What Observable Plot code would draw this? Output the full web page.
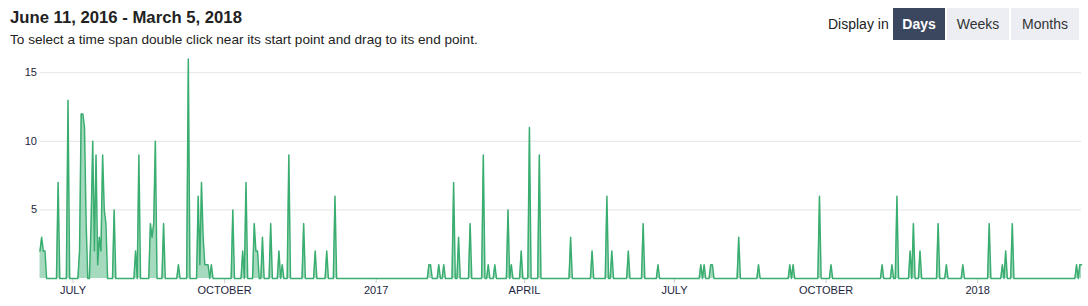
<!DOCTYPE html>
<html><head><meta charset="utf-8">
<script src="https://cdn.jsdelivr.net/npm/d3@7"></script>
<script src="https://cdn.jsdelivr.net/npm/@observablehq/plot@0.6"></script>
<style>
html,body{margin:0;padding:0;background:#fff;}
body{width:1088px;height:306px;overflow:hidden;font-family:"Liberation Sans",Helvetica,Arial,sans-serif;color:#222;}
#header{position:relative;height:50px;}
#title{position:absolute;left:10px;top:8px;font-size:16.7px;font-weight:bold;color:#222;white-space:nowrap;}
#sub{position:absolute;left:10px;top:32px;font-size:13.6px;color:#222;white-space:nowrap;}
#display{position:absolute;left:828px;top:16px;font-size:14px;color:#222;white-space:nowrap;}
.btn{position:absolute;top:8px;height:32px;line-height:32px;text-align:center;font-size:14px;color:#333;background:#eceef3;}
.btn.on{background:#3b475f;color:#fff;font-weight:bold;}
#chart svg{display:block;}
</style>
</head><body>
<div id="header">
  <div id="title">June 11, 2016 - March 5, 2018</div>
  <div id="sub">To select a time span double click near its start point and drag to its end point.</div>
  <div id="display">Display in</div>
  <div class="btn on" style="left:893px;width:52px;">Days</div>
  <div class="btn" style="left:947px;width:62px;">Weeks</div>
  <div class="btn" style="left:1011px;width:68px;">Months</div>
</div>
<div id="chart"></div>
<script>
const startDay = "2016-06-11";
const endDay = "2018-03-05";
// Days with activity (all other days are zero)
const eventDates = [
 "2016-06-11","2016-06-12","2016-06-13","2016-06-14","2016-06-22","2016-06-28",
 "2016-07-05","2016-07-06","2016-07-07","2016-07-08","2016-07-09","2016-07-12","2016-07-13",
 "2016-07-14","2016-07-15","2016-07-16","2016-07-17","2016-07-18","2016-07-19","2016-07-20",
 "2016-07-21","2016-07-26","2016-08-08","2016-08-10","2016-08-17","2016-08-18","2016-08-19",
 "2016-08-20","2016-08-25","2016-09-03","2016-09-09","2016-09-15","2016-09-16","2016-09-17",
 "2016-09-18","2016-09-19","2016-09-20","2016-09-21","2016-09-23","2016-10-06","2016-10-12",
 "2016-10-14","2016-10-19","2016-10-20","2016-10-21","2016-10-24","2016-10-29","2016-11-03",
 "2016-11-05","2016-11-09","2016-11-18","2016-11-25","2016-12-02","2016-12-07",
 "2017-02-02","2017-02-03","2017-02-08","2017-02-11","2017-02-17","2017-02-20","2017-02-27",
 "2017-03-07","2017-03-10","2017-03-14","2017-03-22","2017-03-24","2017-03-30","2017-04-04",
 "2017-04-10","2017-04-29","2017-05-12","2017-05-21","2017-05-24","2017-06-03","2017-06-12",
 "2017-06-21","2017-07-17","2017-07-19","2017-07-23","2017-07-24","2017-08-09","2017-08-21",
 "2017-09-09","2017-09-11","2017-09-27","2017-10-04","2017-11-04","2017-11-10","2017-11-13",
 "2017-11-21","2017-11-23","2017-11-27","2017-12-08","2017-12-13","2017-12-23",
 "2018-01-08","2018-01-16","2018-01-18","2018-01-22","2018-03-02","2018-03-04","2018-03-05"
];
const eventCounts = [
 2,3,2,2,7,13,
 2,12,12,11,4,4,10,
 2,9,1,3,2,9,5,
 4,5,2,9,4,3,4,
 10,4,1,16,6,1,7,
 3,1,1,1,1,5,2,
 7,4,2,2,3,4,2,
 1,9,4,2,2,6,
 1,1,1,1,7,3,4,
 9,1,1,5,1,2,11,
 9,3,2,6,2,2,4,
 1,1,1,1,1,3,1,
 1,1,6,1,1,1,6,
 2,4,2,4,1,1,
 4,1,2,4,1,1,1
];
const tickDates = ["2016-07-01","2016-10-01","2017-01-01","2017-04-01","2017-07-01","2017-10-01","2018-01-01"];
const tickLabels = ["JULY","OCTOBER","2017","APRIL","JULY","OCTOBER","2018"];
const yTicks = [5, 10, 15];

const fmt = d3.utcFormat("%Y-%m-%d");
const countByDay = new Map(eventDates.map((d, i) => [d, eventCounts[i]]));
const start = new Date(startDay + "T00:00:00Z");
const end = new Date(endDay + "T00:00:00Z");
const series = d3.utcDay.range(start, d3.utcDay.offset(end, 1))
  .map(d => ({date: d, value: countByDay.get(fmt(d)) ?? 0}));

const green = "#3aad70";
const chart = Plot.plot({
  width: 1088,
  height: 256,
  marginLeft: 39.5,
  marginRight: 7,
  marginTop: 8.5,
  marginBottom: 28,
  style: {fontFamily: "'Liberation Sans', Helvetica, Arial, sans-serif", fontSize: "11px", color: "#1d2540", background: "#fff"},
  x: {type: "utc", domain: [start, end]},
  y: {domain: [0, 16]},
  marks: [
    Plot.gridY(yTicks, {stroke: "#e4e4e4", strokeOpacity: 1}),
    Plot.axisY(yTicks, {tickSize: 0, tickPadding: 3, label: null, fontSize: 11}),
    Plot.axisX(tickDates.map(d => new Date(d + "T00:00:00Z")), {
      tickSize: 5, tickPadding: 3, label: null, fontSize: 11,
      tickFormat: d => tickLabels[tickDates.indexOf(fmt(d))]
    }),
    Plot.areaY(series, {x: "date", y: "value", fill: green, fillOpacity: 0.45}),
    Plot.lineY(series, {x: "date", y: "value", stroke: green, strokeWidth: 1.5})
  ]
});
d3.select(chart).selectAll('g[aria-label="x-axis tick"] path').attr("stroke", "#cfcfcf");
document.getElementById("chart").appendChild(chart);
</script>
</body></html>
